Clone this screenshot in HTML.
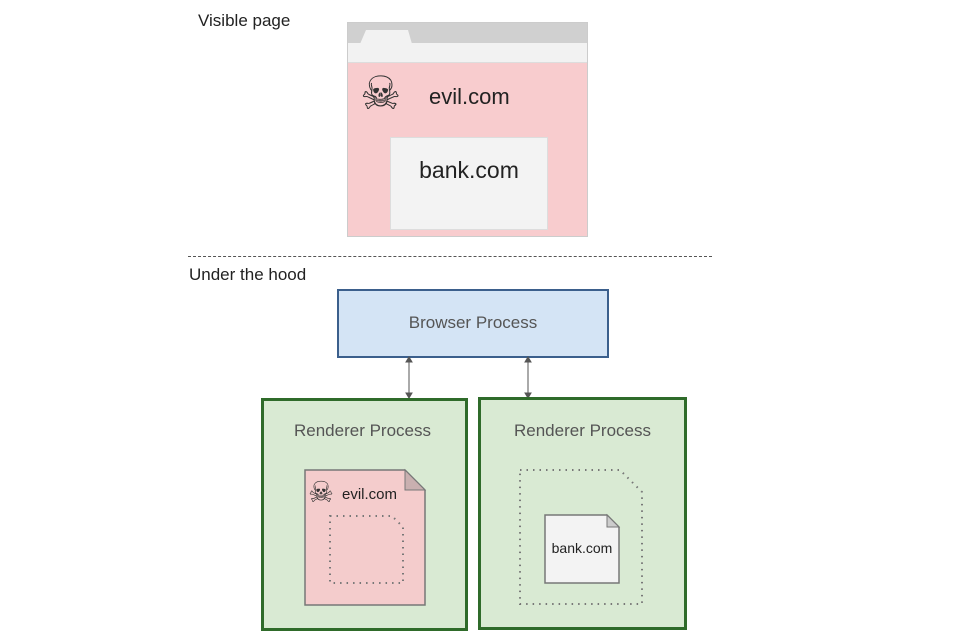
<!DOCTYPE html>
<html><head><style>
body{margin:0;width:960px;height:640px;background:#fff;font-family:"Liberation Sans","DejaVu Sans",sans-serif;position:relative;overflow:hidden}
.a{position:absolute}
</style></head><body>
<div class="a" style="left:198px;top:11px;font-size:17px;color:#222">Visible page</div>
<div class="a" style="left:347px;top:22px;width:239px;height:213px;border:1px solid #ccc;background:#f8ccce"></div>
<div class="a" style="left:348px;top:23px;width:239px;height:20px;background:#d0d0d0"></div>
<div class="a" style="left:348px;top:43px;width:239px;height:19px;background:#f2f2f2;border-bottom:1px solid #ddd"></div>
<svg class="a" style="left:348px;top:23px" width="240" height="22"><path d="M12 21 L18 7 L60 7 L64 21 Z" fill="#f2f2f2"/></svg>
<div class="a" style="left:360px;top:68px;font-size:46px;line-height:50px;color:#333">☠</div>
<div class="a" style="left:429px;top:84px;font-size:22px;color:#222">evil.com</div>
<div class="a" style="left:390px;top:137px;width:156px;height:91px;background:#f3f3f3;border:1px solid #ddd"></div>
<div class="a" style="left:390px;top:157px;width:158px;text-align:center;font-size:23px;color:#222">bank.com</div>
<div class="a" style="left:188px;top:256px;width:524px;border-top:1px dashed #555"></div>
<div class="a" style="left:189px;top:265px;font-size:17px;color:#222">Under the hood</div>
<div class="a" style="left:337px;top:289px;width:268px;height:65px;background:#d4e4f5;border:2px solid #3b5f8c"></div>
<div class="a" style="left:337px;top:313px;width:272px;text-align:center;font-size:17px;color:#555">Browser Process</div>
<svg class="a" style="left:0;top:0" width="960" height="640">
<g stroke="#555" stroke-width="1" fill="#555">
<line x1="409" y1="360" x2="409" y2="395"/><path d="M406 362 L409 357 L412 362Z M406 393 L409 398 L412 393Z"/>
<line x1="528" y1="360" x2="528" y2="395"/><path d="M525 362 L528 357 L531 362Z M525 393 L528 398 L531 393Z"/>
</g>
</svg>
<div class="a" style="left:261px;top:398px;width:201px;height:227px;background:#d9ead3;border:3px solid #2f6b2a"></div>
<div class="a" style="left:478px;top:397px;width:203px;height:227px;background:#d9ead3;border:3px solid #2f6b2a"></div>
<div class="a" style="left:259px;top:421px;width:207px;text-align:center;font-size:17px;color:#555">Renderer Process</div>
<div class="a" style="left:478px;top:421px;width:209px;text-align:center;font-size:17px;color:#555">Renderer Process</div>
<svg class="a" style="left:0;top:0" width="960" height="640">
<path d="M305 470 L405 470 L425 490 L425 605 L305 605 Z" fill="#f4cccc" stroke="#777" stroke-width="1.5"/>
<path d="M405 470 L405 490 L425 490 Z" fill="#c9b0b0" stroke="#777"/>
<path d="M330 516 L392 516 L403 527 L403 583 L330 583 Z" fill="none" stroke="#777" stroke-width="2" stroke-dasharray="1.5 5"/>
<path d="M520 470 L620 470 L642 492 L642 604 L520 604 Z" fill="none" stroke="#777" stroke-width="2" stroke-dasharray="1.5 5"/>
<path d="M545 515 L607 515 L619 527 L619 583 L545 583 Z" fill="#f3f3f3" stroke="#777" stroke-width="1.5"/>
<path d="M607 515 L607 527 L619 527 Z" fill="#ccc" stroke="#777"/>
</svg>
<div class="a" style="left:308px;top:478px;font-size:29px;line-height:30px;color:#333">☠</div>
<div class="a" style="left:342px;top:486px;font-size:15px;color:#222">evil.com</div>
<div class="a" style="left:545px;top:540px;width:74px;text-align:center;font-size:14px;color:#222">bank.com</div>
</body></html>
